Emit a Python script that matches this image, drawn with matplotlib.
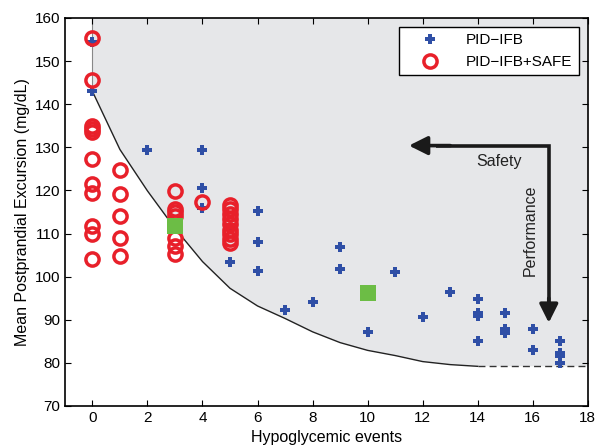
import numpy as np
import matplotlib
matplotlib.use("Agg")
import matplotlib.pyplot as plt

plt.rcParams['font.family'] = ['Liberation Sans', 'DejaVu Sans']

# PID-IFB points
ifb_x = [0, 0, 2, 4, 4, 4, 5, 5, 6, 6, 6, 7, 8, 9, 9, 10, 11, 12, 13,
         14, 14, 14, 14, 15, 15, 15, 16, 16, 17, 17, 17, 17]
ifb_y = [154.5, 143, 129.3, 129.3, 120.5, 116, 111.3, 103.4, 115.2, 108, 101.3,
         92.3, 94.1, 106.9, 101.8, 87.1, 101.1, 90.6, 96.4,
         94.8, 91.6, 90.9, 85.1, 91.5, 87.8, 87.0, 87.8, 83.0,
         85.1, 82.2, 81.6, 80.0]

# PID-IFB+SAFE points
safe_x = [0, 0, 0, 0, 0, 0, 0, 0, 0, 0, 0,
          1, 1, 1, 1, 1,
          3, 3, 3, 3, 3, 3, 3,
          4,
          5, 5, 5, 5, 5, 5, 5, 5, 5]
safe_y = [155.4, 145.5, 135.0, 134.3, 133.6, 127.2, 121.6, 119.4, 111.8, 109.9, 104.1,
          124.7, 119.2, 114.1, 108.9, 104.8,
          119.9, 115.6, 114.9, 114.0, 109.0, 107.1, 105.2,
          117.4,
          116.6, 115.6, 114.5, 113.3, 112.1, 110.9, 109.8, 108.7, 107.7]

# highlighted points
sel_x = [3, 10]
sel_y = [111.7, 96.3]

# boundary of the feasible region
front_x = [0, 1, 2, 3, 4, 5, 6, 7, 8, 9, 10, 11, 12, 13, 14]
front_y = [143, 129.5, 119.9, 111.2, 103.5, 97.3, 93.2, 90.3, 87.2, 84.7, 82.9, 81.7, 80.3, 79.6, 79.2]

fig = plt.figure(figsize=(5.95, 4.46), dpi=100)
ax = fig.add_axes([0.109, 0.0897, 0.879, 0.870])

# shaded region above the front
poly_x = [0] + front_x + [18, 18]
poly_y = [160] + front_y + [79.2, 160]
ax.fill(poly_x, poly_y, color='#e6e7e9', zorder=0, lw=0)
ax.plot([0, 0], [143, 160], color='#888888', lw=0.8, zorder=1)
ax.plot(front_x, front_y, color='#222222', lw=1.0, zorder=1)
ax.plot([14, 18], [79.2, 79.2], color='#333333', lw=1.0, ls=(0, (5, 3)), zorder=1)

ax.plot(ifb_x, ifb_y, 'P', color='#2f4fa6', ms=7.5, mew=0, ls='none',
        label='PID\u2212IFB', zorder=3)
ax.plot(safe_x, safe_y, 'o', mfc='none', mec='#e8202a', ms=9.5, mew=2.5, ls='none',
        label='PID\u2212IFB+SAFE', zorder=4)
ax.plot(sel_x, sel_y, 's', color='#6cbd45', ms=11, mew=0, ls='none', zorder=5)

# arrows: corner drawn as one polyline, heads added with annotate
ax.plot([12.5, 16.58, 16.58], [130.4, 130.4, 93], color='#1a1a1a', lw=2.6,
        solid_joinstyle='miter', solid_capstyle='butt', zorder=6)
ax.annotate('', xy=(11.5, 130.4), xytext=(13.0, 130.4),
            arrowprops=dict(arrowstyle='-|>', lw=2.6, color='#1a1a1a',
                            mutation_scale=28, shrinkA=0, shrinkB=0), zorder=6)
ax.annotate('', xy=(16.58, 89.3), xytext=(16.58, 95),
            arrowprops=dict(arrowstyle='-|>', lw=2.6, color='#1a1a1a',
                            mutation_scale=28, shrinkA=0, shrinkB=0), zorder=6)
ax.text(14.76, 126.8, 'Safety', ha='center', va='center', fontsize=11.5, color='#222222')
ax.text(15.9, 110.8, 'Performance', ha='center', va='center', rotation=90,
        fontsize=11.5, color='#222222')

ax.set_xlim(-1, 18)
ax.set_ylim(70, 160)
ax.set_xticks(np.arange(0, 19, 2))
ax.set_yticks(np.arange(70, 161, 10))
ax.tick_params(direction='in', top=True, right=True, labelsize=11, length=4)
for s in ax.spines.values():
    s.set_linewidth(1.2)
ax.set_xlabel('Hypoglycemic events', fontsize=11.5, labelpad=4)
ax.set_ylabel('Mean Postprandial Excursion (mg/dL)', fontsize=11.5, labelpad=3)

leg = ax.legend(loc='upper right', fontsize=11, frameon=True, fancybox=False,
                edgecolor='black', framealpha=1, borderaxespad=0.6,
                handlelength=3.2, handletextpad=0.8, borderpad=0.4)
leg.get_frame().set_linewidth(1.0)

fig.savefig('out.png', dpi=100)
